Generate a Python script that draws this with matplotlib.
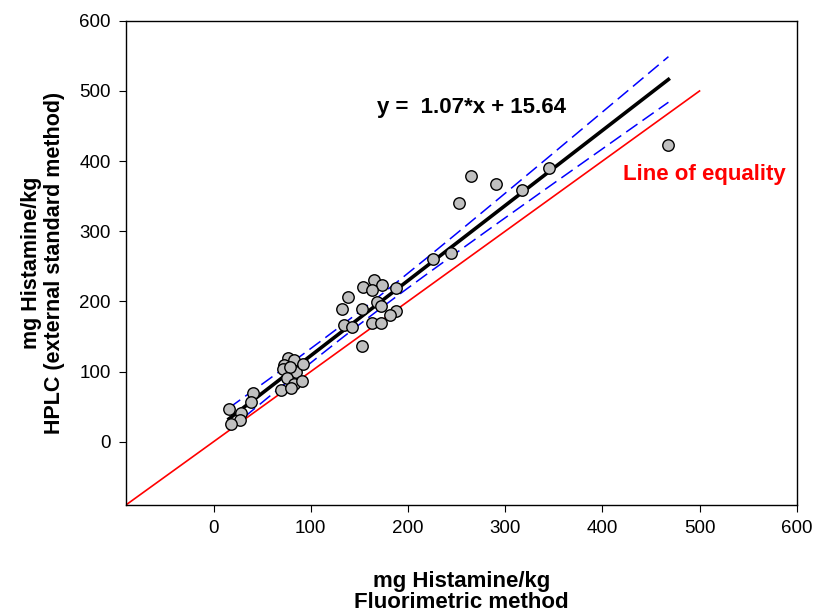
import numpy as np
import matplotlib.pyplot as plt

plt.rcParams['font.family'] = ['Liberation Sans', 'DejaVu Sans']

# Fluorimetric method (x) vs HPLC external standard (y), mg histamine/kg
fluor = [16, 28, 27, 18, 41, 39, 69, 77, 83, 73, 71, 85, 79, 76, 83, 91, 80, 92,
         165, 154, 173, 163, 188, 138, 132, 153, 168, 172, 188, 182, 134, 142, 163, 172, 153,
         265, 291, 253, 317, 345, 226, 244, 468]
hplc = [46, 41, 31, 26, 70, 56, 74, 120, 117, 110, 103, 99, 106, 91, 83, 86, 77, 111,
        231, 220, 223, 217, 219, 206, 189, 189, 199, 193, 187, 181, 167, 163, 169, 169, 137,
        379, 367, 341, 359, 390, 260, 269, 423]

slope = 1.07
intercept = 15.64

x = np.array(fluor, dtype=float)
y = np.array(hplc, dtype=float)

fig, ax = plt.subplots(figsize=(8.13, 6.12), dpi=100)
fig.subplots_adjust(left=0.155, right=0.980, bottom=0.175, top=0.966)

# line of equality
ax.plot([-90, 500], [-90, 500], color='red', linewidth=1.2, zorder=2)

# regression line and 95% confidence band
xs = np.linspace(x.min(), x.max(), 200)
ys = slope * xs + intercept
n = len(x)
resid = y - (slope * x + intercept)
s = np.sqrt(np.sum(resid ** 2) / (n - 2))
sxx = np.sum((x - x.mean()) ** 2)
half = 2.02 * s * np.sqrt(1.0 / n + (xs - x.mean()) ** 2 / sxx)
ax.plot(xs, ys + half, color='blue', linestyle=(0, (9, 4)), linewidth=1.1, zorder=3)
ax.plot(xs, ys - half, color='blue', linestyle=(0, (9, 4)), linewidth=1.1, zorder=3)
ax.plot(xs, ys, color='black', linewidth=2.6, zorder=4)

ax.scatter(x, y, s=68, facecolor='#c0c0c0', edgecolor='black', linewidth=1.0, zorder=5)

ax.text(168, 477, 'y =  1.07*x + 15.64', fontsize=16, fontweight='bold', va='center')
ax.text(421, 381, 'Line of equality', fontsize=16, fontweight='bold', color='red', va='center')

ax.set_xlim(-90, 600)
ax.set_ylim(-90, 600)
ax.set_xticks(range(0, 601, 100))
ax.set_yticks(range(0, 601, 100))
ax.tick_params(direction='out', length=5, pad=6, labelsize=13.5, top=False, right=False)
for sp in ax.spines.values():
    sp.set_linewidth(1.0)

ax.set_xlabel('mg Histamine/kg\nFluorimetric method', fontsize=16, fontweight='bold',
              labelpad=24, linespacing=1.0)
ax.set_ylabel('mg Histamine/kg\nHPLC (external standard method)', fontsize=15.5, fontweight='bold',
              labelpad=10, linespacing=1.15)

plt.savefig('out.png', dpi=100)
